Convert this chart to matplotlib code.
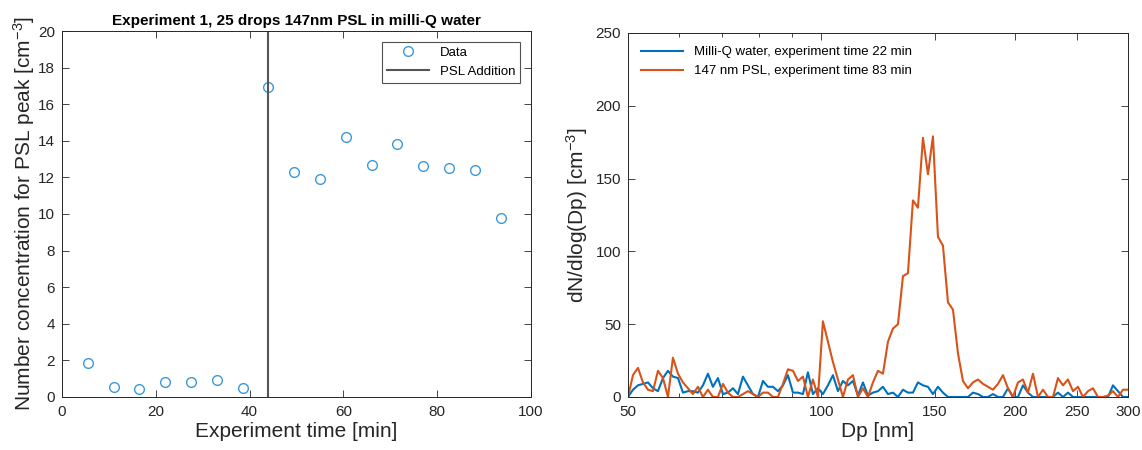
import matplotlib
matplotlib.use('Agg')
import matplotlib.pyplot as plt
from matplotlib.ticker import FixedLocator, FixedFormatter, NullFormatter, LogLocator

plt.rcParams['font.family'] = ['Liberation Sans', 'DejaVu Sans']
plt.rcParams['mathtext.default'] = 'regular'

# left panel: PSL peak concentration vs experiment time
time_min = [5.5, 11, 16.5, 22, 27.5, 33, 38.5, 44, 49.5, 55, 60.5, 66, 71.5, 77, 82.5, 88, 93.5]
conc = [1.85, 0.55, 0.45, 0.8, 0.8, 0.95, 0.5, 16.95, 12.3, 11.9, 14.2, 12.7, 13.8, 12.65, 12.5, 12.4, 9.8]
psl_addition = 44

# right panel: size distributions
dp_nm = [50.0, 50.9, 51.82, 52.76, 53.71, 54.68, 55.67, 56.68, 57.7, 58.74,
         59.81, 60.89, 61.99, 63.11, 64.25, 65.41, 66.59, 67.79, 69.02, 70.27,
         71.54, 72.83, 74.15, 75.49, 76.85, 78.24, 79.66, 81.1, 82.56, 84.06,
         85.58, 87.13, 88.7, 90.31, 91.94, 93.6, 95.29, 97.01, 98.77, 100.55,
         102.37, 104.22, 106.11, 108.02, 109.98, 111.97, 113.99, 116.05, 118.15, 120.29,
         122.47, 124.68, 126.94, 129.23, 131.57, 133.95, 136.37, 138.83, 141.34, 143.9,
         146.5, 149.15, 151.85, 154.59, 157.39, 160.24, 163.13, 166.08, 169.09, 172.14,
         175.26, 178.43, 181.65, 184.94, 188.28, 191.69, 195.15, 198.68, 202.28, 205.93,
         209.66, 213.45, 217.31, 221.24, 225.24, 229.31, 233.46, 237.68, 241.98, 246.35,
         250.81, 255.34, 259.96, 264.66, 269.45, 274.32, 279.28, 284.33, 289.47, 294.7,
         300.0]
milliq = [0, 5, 8, 9, 10, 6, 4, 13, 18, 14,
          13, 3, 4, 4, 3, 8, 16, 7, 13, 2,
          3, 6, 2, 14, 8, 2, 0, 11, 7, 7,
          4, 8, 15, 3, 3, 2, 17, 2, 6, 2,
          8, 15, 4, 11, 8, 11, 1, 10, 1, 3,
          4, 7, 2, 3, 0, 5, 3, 3, 10, 8,
          7, 2, 7, 3, 0, 0, 0, 0, 0, 3,
          2, 0, 0, 2, 0, 0, 6, 0, 0, 8,
          3, 0, 0, 0, 0, 0, 3, 0, 3, 0,
          0, 0, 0, 0, 0, 0, 0, 8, 4, 0,
          0]
psl = [0, 15, 20, 10, 5, 4, 18, 13, 0, 27,
       16, 10, 6, 2, 7, 0, 5, 0, 0, 9,
       3, 0, 0, 2, 4, 2, 0, 3, 3, 0,
       0, 9, 19, 18, 11, 14, 0, 12, 0, 52,
       38, 24, 12, 0, 12, 15, 0, 6, 0, 10,
       18, 16, 38, 47, 50, 83, 85, 135, 130, 178,
       153, 179, 110, 104, 65, 60, 30, 11, 6, 10,
       12, 9, 7, 5, 9, 15, 6, 0, 10, 12,
       3, 16, 0, 5, 0, 0, 13, 8, 12, 4,
       7, 0, 4, 6, 0, 0, 1, 4, 0, 5,
       5]

axis_col = '#262626'
fig = plt.figure(figsize=(11.42, 4.5), dpi=100)

ax1 = fig.add_axes([0.0543, 0.1178, 0.4107, 0.8133])
ax1.plot(time_min, conc, 'o', mfc='none', mec='#3b99d9', ms=7, mew=1.0, label='Data')
ax1.axvline(psl_addition, color='#555555', lw=1.5, label='PSL Addition')
ax1.set_xlim(0, 100)
ax1.set_ylim(0, 20)
ax1.set_xticks(range(0, 101, 20))
ax1.set_yticks(range(0, 21, 2))
ax1.set_xlabel('Experiment time [min]', fontsize=15, color=axis_col, labelpad=2)
ax1.set_ylabel('Number concentration for PSL peak [cm$^{-3}$]', fontsize=15, color=axis_col, labelpad=1)
ax1.set_title('Experiment 1, 25 drops 147nm PSL in milli-Q water', fontsize=11, fontweight='bold', pad=4)
leg = ax1.legend(loc='upper right', fontsize=9.5, fancybox=False, edgecolor='#262626',
                 handlelength=3.2, borderaxespad=0.8)
leg.get_frame().set_linewidth(0.8)

ax2 = fig.add_axes([0.5499, 0.1178, 0.4378, 0.8089])
ax2.plot(dp_nm, milliq, color='#0072bd', lw=1.5, label='Milli-Q water, experiment time 22 min')
ax2.plot(dp_nm, psl, color='#d95319', lw=1.5, label='147 nm PSL, experiment time 83 min')
ax2.set_xscale('log')
ax2.set_xlim(50, 300)
ax2.set_ylim(0, 250)
ax2.xaxis.set_major_locator(FixedLocator([50, 100, 150, 200, 250, 300]))
ax2.xaxis.set_major_formatter(FixedFormatter(['50', '100', '150', '200', '250', '300']))
ax2.xaxis.set_minor_locator(LogLocator(base=10, subs=range(2, 10)))
ax2.xaxis.set_minor_formatter(NullFormatter())
ax2.set_yticks(range(0, 251, 50))
ax2.set_xlabel('Dp [nm]', fontsize=15, color=axis_col, labelpad=2)
ax2.set_ylabel('dN/dlog(Dp) [cm$^{-3}$]', fontsize=15, color=axis_col, labelpad=4)
ax2.legend(loc='upper left', fontsize=9.5, frameon=False, handlelength=3.2, borderaxespad=0.6)

for ax in (ax1, ax2):
    ax.tick_params(which='both', direction='in', top=True, right=True, labelsize=11,
                   colors=axis_col, width=0.6)
    ax.tick_params(axis='x', which='major', pad=6)
    ax.tick_params(axis='y', which='major', pad=5)
    ax.tick_params(which='major', length=5)
    ax.tick_params(which='minor', length=3)
    for s in ax.spines.values():
        s.set_color(axis_col)
        s.set_linewidth(0.7)

fig.savefig('out.png', dpi=100)
